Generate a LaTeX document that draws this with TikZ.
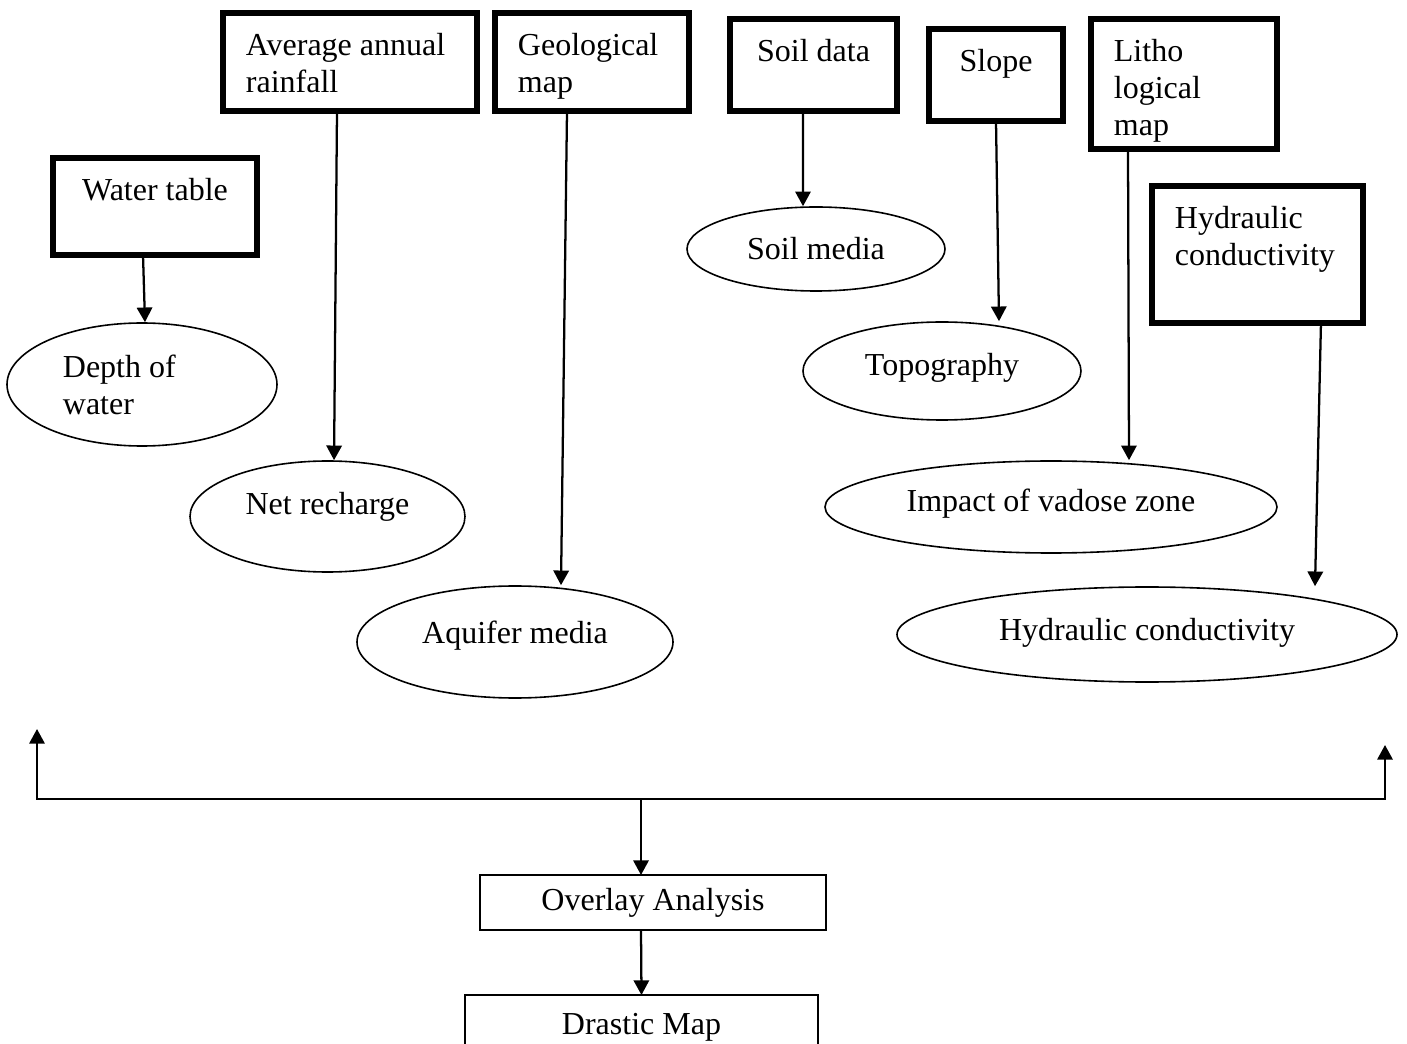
\documentclass[tikz,border=0pt]{standalone}
\usepackage{fontspec}
\setmainfont{Liberation Serif}
\usetikzlibrary{shapes.geometric,arrows.meta,positioning}

\tikzset{
  srcbox/.style={draw, line width=4.5pt, outer sep=0pt, inner sep=0pt},
  boxtext/.style={align=left, inner xsep=17pt, inner ysep=15pt},
  oval/.style={draw, ellipse, line width=1.2pt, inner sep=0pt, align=left},
  plainbox/.style={draw, line width=1.1pt, outer sep=0pt, inner sep=0pt},
  arr/.style={line width=1.7pt, ->},
}

\begin{document}
\begin{tikzpicture}[x=0.75pt,y=0.75pt,yscale=-1,xscale=1,
  font=\fontsize{24}{27.75}\selectfont,
  >={Triangle[width=11.5pt,length=11pt]}]
\useasboundingbox (0,0) rectangle (1407,1044);

%Source boxes
\node[srcbox, minimum width=153pt, minimum height=72.75pt,
  label={[boxtext, anchor=north]north:Water table}] (wt) at (155,206.5) {};
\node[srcbox, minimum width=190.5pt, minimum height=73.5pt,
  label={[boxtext, anchor=north west]north west:{Average annual\\rainfall}}] (rain) at (350,62) {};
\node[srcbox, minimum width=145.5pt, minimum height=73.5pt,
  label={[boxtext, anchor=north west]north west:{Geological\\map}}] (geo) at (592,62) {};
\node[srcbox, minimum width=125.25pt, minimum height=69pt,
  label={[boxtext, anchor=north]north:Soil data}] (soil) at (813.5,65) {};
\node[srcbox, minimum width=100.5pt, minimum height=69pt,
  label={[boxtext, anchor=north]north:Slope}] (slope) at (996,75) {};
\node[srcbox, minimum width=139.5pt, minimum height=97.5pt,
  label={[boxtext, anchor=north west]north west:{Litho\\logical\\map}}] (litho) at (1184,84) {};
\node[srcbox, minimum width=158.25pt, minimum height=102.75pt,
  label={[boxtext, anchor=north west]north west:{Hydraulic\\conductivity}}] (hbox) at (1257.5,254.5) {};

%Parameter ellipses
\node[oval, minimum width=202.5pt, minimum height=92.25pt] (dow) at (142,384.5) {};
\node[align=left] (dowtxt) at ([xshift=-17pt]dow.center) {Depth of\\water};
\node[oval, minimum width=206.25pt, minimum height=83.25pt, text depth=20pt] (net) at (327.5,516.5) {Net recharge};
\node[oval, minimum width=237pt, minimum height=84pt, text depth=14pt] (aq) at (515,642) {Aquifer media};
\node[oval, minimum width=193.5pt, minimum height=63pt] (soilm) at (816,249) {Soil media};
\node[oval, minimum width=208.5pt, minimum height=73.5pt, text depth=10pt] (topo) at (942,371) {Topography};
\node[oval, minimum width=339pt, minimum height=69pt, text depth=10pt] (imp) at (1051,507) {Impact of vadose zone};
\node[oval, minimum width=375pt, minimum height=71.25pt, text depth=8pt] (hcond) at (1147,634.5) {Hydraulic conductivity};

%Source to parameter
\draw[arr] ([xshift=-9pt]wt.south) -- ([xshift=2.25pt]dow.north);
\draw[arr] ([xshift=-9.75pt]rain.south) -- ([xshift=4.9pt]net.north);
\draw[arr] ([xshift=-18.75pt]geo.south) -- ([xshift=34.5pt]aq.north);
\draw[arr] ([xshift=-7.9pt]soil.south) -- ([xshift=-9.75pt]soilm.north);
\draw[arr] (slope.south) -- ([xshift=42.75pt]topo.north);
\draw[arr] ([xshift=-42pt]litho.south) -- ([xshift=58.5pt]imp.north);
\draw[arr] ([xshift=47.6pt]hbox.south) -- ([xshift=126pt]hcond.north);

%Overlay and result
\node[plainbox, minimum width=259.5pt, minimum height=41.25pt] (ov) at (653,902.5) {Overlay Analysis};
\node[plainbox, minimum width=264.75pt, minimum height=48pt] (dm) at (641.5,1027) {Drastic Map};

\coordinate (jl) at (37,799);
\coordinate (jr) at (1385,799);
\coordinate (jm) at (641,799);
\coordinate (tl) at (37,729);
\coordinate (tr) at (1385,745);
\draw[line width=1.7pt, <->] (tl) -- (jl) -- (jr) -- (tr);
\draw[arr] (jm) -- ([xshift=-9pt]ov.north);
\draw[arr] ([xshift=-9pt]ov.south) -- (dm.north);

\end{tikzpicture}
\end{document}
